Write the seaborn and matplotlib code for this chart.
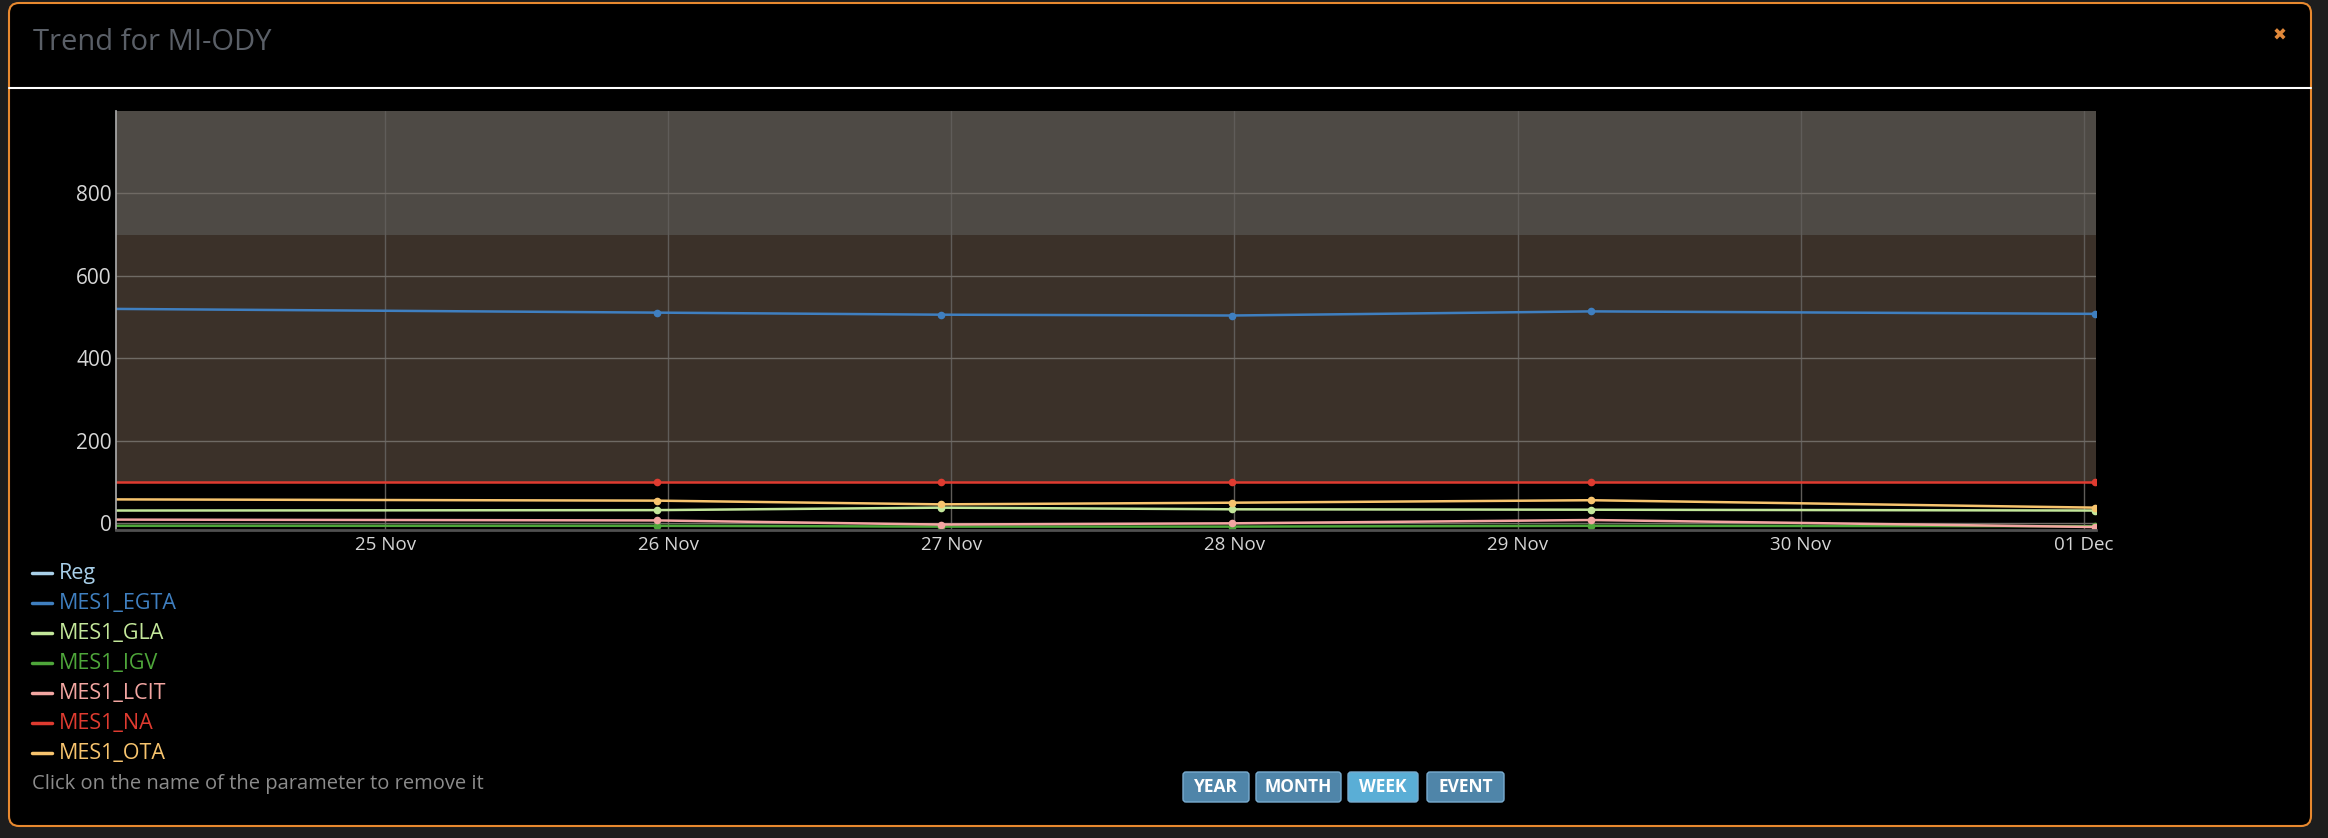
import pandas as pd
import seaborn as sns
import matplotlib.pyplot as plt
import matplotlib.dates as mdates
from matplotlib.patches import FancyBboxPatch
from matplotlib.lines import Line2D
from matplotlib.transforms import IdentityTransform


# data
times = ['2020-11-24 01:10', '2020-11-25 23:00', '2020-11-26 23:05',
         '2020-11-27 23:50', '2020-11-29 06:15', '2020-12-01 01:00']
mes1_egta = [520, 511, 506, 504, 514, 508]
mes1_gla = [31, 32, 38, 34, 33, 31]
mes1_igv = [-6, -6, -8, -8, -6, -7]
mes1_lcit = [9, 7, -3, 0, 8, -9]
mes1_na = [100, 100, 100, 100, 100, 100]
mes1_ota = [58, 55, 46, 50, 56, 38]

params = ['Reg', 'MES1_EGTA', 'MES1_GLA', 'MES1_IGV', 'MES1_LCIT', 'MES1_NA', 'MES1_OTA']
colors = ['#a9d0ea', '#3f7fc0', '#c3e79a', '#4ea63a', '#f3a6a2', '#df3b30', '#f7c46e']
y_ticks = [0, 200, 400, 600, 800]
band_low, band_mid, band_top = 100, 700, 1000
buttons = ['YEAR', 'MONTH', 'WEEK', 'EVENT']

series = {'MES1_EGTA': mes1_egta, 'MES1_GLA': mes1_gla, 'MES1_IGV': mes1_igv,
          'MES1_LCIT': mes1_lcit, 'MES1_NA': mes1_na, 'MES1_OTA': mes1_ota}
df = pd.concat([pd.DataFrame({'time': pd.to_datetime(times), 'value': v, 'param': k})
                for k, v in series.items()], ignore_index=True)
palette = dict(zip(params, colors))

W, H = 2328, 838
sns.set_theme(style='dark')
plt.rcParams['font.family'] = ['Open Sans', 'DejaVu Sans']

fig = plt.figure(figsize=(W / 100, H / 100), dpi=100, facecolor='#1d1d1d')
px = IdentityTransform()

# modal box
fig.add_artist(FancyBboxPatch((9, H - 826), 2302, 823, boxstyle='round,pad=0,rounding_size=10',
                              transform=px, fc='black', ec='#e8892f', lw=1.5, zorder=0))
fig.add_artist(Line2D([9, 2311], [H - 88, H - 88], transform=px, color='white', lw=1.5))
fig.text(33 / W, 1 - 43 / H, 'Trend for MI-ODY', va='center', ha='left', fontsize=21, color='#5a5f67')
fig.text(2280 / W, 1 - 36 / H, '✖', va='center', ha='center', fontsize=12, color='#e0883a',
         family='DejaVu Sans')

ax = fig.add_axes([116 / W, 1 - 529.5 / H, 1980 / W, 418.5 / H])
ax.set_facecolor('black')
ax.axhspan(band_low, band_mid, color='#3b3129', lw=0, zorder=0.1)
ax.axhspan(band_mid, band_top, color='#4e4a45', lw=0, zorder=0.1)

sns.lineplot(data=df, x='time', y='value', hue='param', palette=palette, marker='o',
             markersize=5.5, markeredgewidth=0, linewidth=1.8, markevery=slice(1, None),
             legend=False, ax=ax)

ax.set_xlim(pd.Timestamp('2020-11-24 01:10'), pd.Timestamp('2020-12-01 01:03'))
ax.set_ylim(-15, band_top)
ax.set_yticks(y_ticks)
ax.xaxis.set_major_locator(mdates.DayLocator())
ax.xaxis.set_major_formatter(mdates.DateFormatter('%d %b'))
ax.set_xlabel('')
ax.set_ylabel('')
ax.grid(True, axis='y', color='#6f6a64', lw=1)
ax.grid(True, axis='x', color='#5f5c59', lw=1)
ax.tick_params(colors='#d6d6d6', length=0)
ax.tick_params(axis='x', labelsize=13.5, pad=5)
ax.tick_params(axis='y', labelsize=15, pad=3)
for s in ['top', 'right']:
    ax.spines[s].set_visible(False)
ax.spines['left'].set_color('#a8a8a8')
ax.spines['bottom'].set_color('#505050')
ax.spines['bottom'].set_linewidth(2)

# legend
for i, (name, c) in enumerate(zip(params, colors)):
    y = 573 + 30 * i
    fig.add_artist(Line2D([32, 52], [H - y, H - y], transform=px, color=c, lw=2.5))
    fig.text(59 / W, 1 - y / H, name, color=c, fontsize=15.5, va='center', ha='left',
             fontweight='medium')
fig.text(32 / W, 1 - 784 / H, 'Click on the name of the parameter to remove it',
         color='#8c8c8c', fontsize=14.5, va='center', ha='left')

# period buttons
spans = [(1183, 1249), (1256, 1341), (1348, 1418), (1427, 1504)]
for label, (x0, x1) in zip(buttons, spans):
    fc = '#5aaed6' if label == 'WEEK' else '#4f85a9'
    fig.add_artist(FancyBboxPatch((x0, H - 802), x1 - x0, 30, boxstyle='round,pad=0,rounding_size=3',
                                  transform=px, fc=fc, ec='#79acd0', lw=1))
    fig.text((x0 + x1) / 2 / W, 1 - 787 / H, label, color='white', fontsize=12.5,
             fontweight='bold', va='center', ha='center')

fig.savefig('out.png', dpi=100, facecolor=fig.get_facecolor())
